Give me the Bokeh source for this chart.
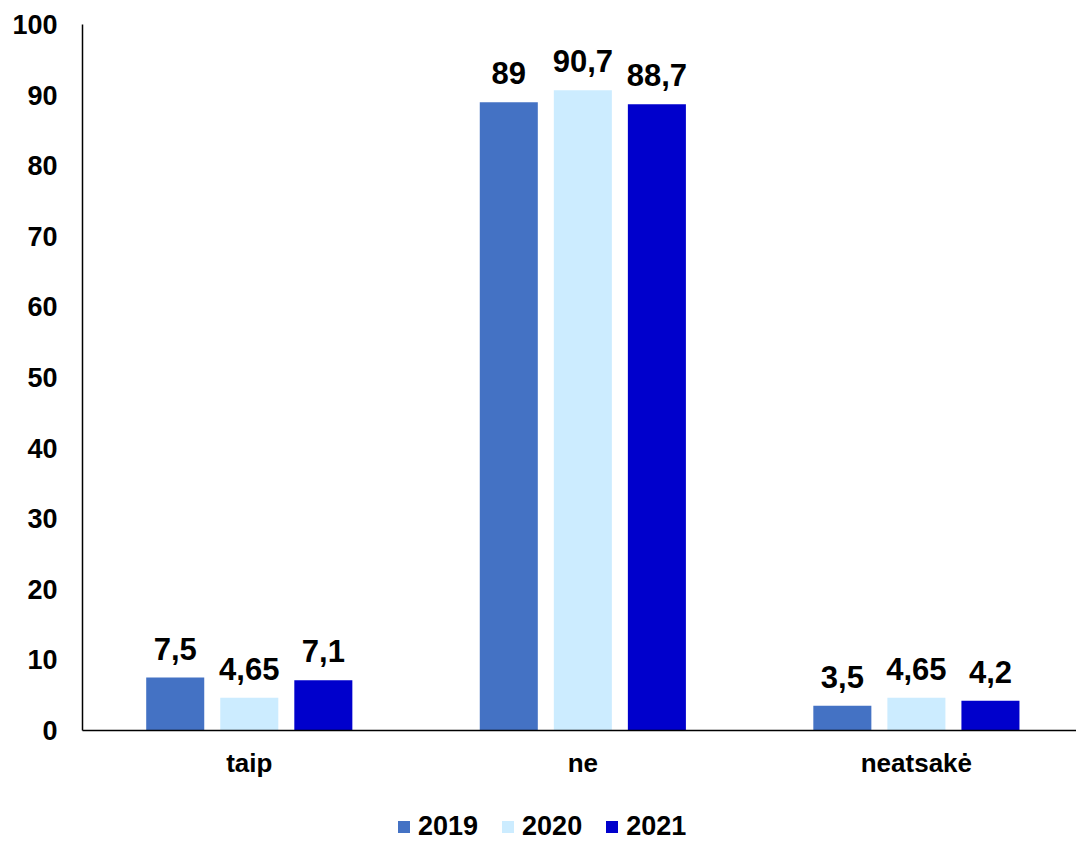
from bokeh.plotting import figure
from bokeh.layouts import column
from bokeh.models import Range1d, FixedTicker, Legend, LegendItem, ColumnDataSource
from bokeh.embed import file_html
from bokeh.resources import INLINE
from bokeh.core.properties import value

categories = ["taip", "ne", "neatsakė"]
years = ["2019", "2020", "2021"]
values_2019 = [7.5, 89, 3.5]
values_2020 = [4.65, 90.7, 4.65]
values_2021 = [7.1, 88.7, 4.2]
colors = ["#4472C4", "#CCECFF", "#0000CC"]
y_ticks = list(range(0, 101, 10))

FONT = "Liberation Sans"

def fmt(v):
    s = ("%g" % v)
    return s.replace(".", ",")

p = figure(frame_width=994, frame_height=706, output_backend="svg", toolbar_location=None,
           x_range=Range1d(0, 2.98), y_range=Range1d(0, 100),
           min_border_left=82, min_border_right=0, min_border_top=24, min_border_bottom=60)
p.outline_line_color = None
p.xgrid.visible = False
p.ygrid.visible = False

series = [values_2019, values_2020, values_2021]
offsets = [-0.222, 0.0, 0.222]
width = 0.174
for vals, off, col in zip(series, offsets, colors):
    xs = [i + 0.5 + off for i in range(len(categories))]
    src = ColumnDataSource(dict(x=xs, top=vals, label=[fmt(v) for v in vals]))
    p.vbar(x="x", top="top", bottom=0, width=width, source=src,
           fill_color=col, line_color=None)
    p.text(x="x", y="top", text="label", source=src, text_align="center",
           text_baseline="middle", y_offset=-29,
           text_font=value(FONT), text_font_style="bold", text_font_size="31px",
           text_color="black")

for ax in (p.xaxis, p.yaxis):
    ax.major_tick_line_color = None
    ax.minor_tick_line_color = None
    ax.axis_line_color = "black"
    ax.axis_line_width = 1.5
    ax.major_label_text_font = FONT
    ax.major_label_text_font_style = "bold"
    ax.major_label_text_color = "black"

p.yaxis.ticker = FixedTicker(ticks=y_ticks)
p.yaxis.major_label_text_font_size = "27px"
p.yaxis.major_label_standoff = 19

p.xaxis.ticker = FixedTicker(ticks=[i + 0.5 for i in range(len(categories))])
p.xaxis.major_label_overrides = {i + 0.5: c for i, c in enumerate(categories)}
p.xaxis.major_label_text_font_size = "26px"
p.xaxis.major_label_standoff = 11

# legend strip below the chart (its frame is aligned with the chart frame)
lg = figure(width=1076, height=52, output_backend="svg", toolbar_location=None,
            x_range=Range1d(0, 1), y_range=Range1d(0, 1),
            x_axis_type=None, y_axis_type=None,
            min_border_left=0, min_border_right=0, min_border_top=0, min_border_bottom=0)
lg.outline_line_color = None
items = []
for y, col in zip(years, colors):
    r = lg.vbar(x=[-10], top=[0], width=0.1, fill_color=col, line_color=None)
    items.append(LegendItem(label=y, renderers=[r]))

legend = Legend(items=items, orientation="horizontal", location=(314, 0))
legend.label_text_font = FONT
legend.label_text_font_style = "bold"
legend.label_text_font_size = "27px"
legend.label_text_color = "black"
legend.glyph_width = 15
legend.glyph_height = 15
legend.label_standoff = 7
legend.spacing = 22
legend.padding = 0
legend.margin = 0
legend.border_line_color = None
legend.background_fill_alpha = 0
lg.add_layout(legend, "center")

layout = column(p, lg, spacing=0)
open("out.html", "w").write(file_html(layout, INLINE))
